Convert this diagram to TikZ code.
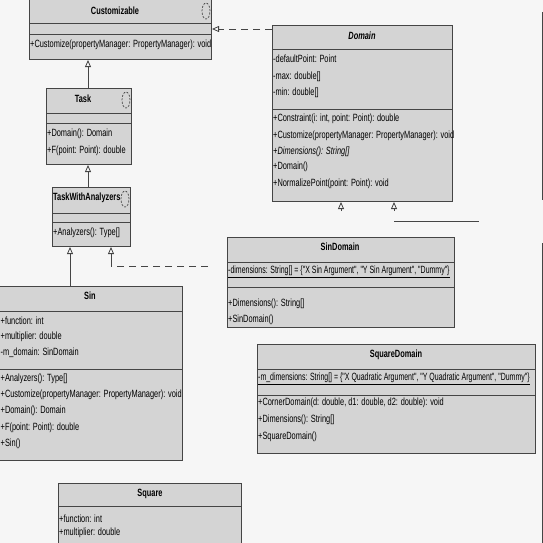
\documentclass[tikz,border=0pt]{standalone}
\usepackage{fontspec}
\setmainfont[FakeStretch=0.705]{Liberation Sans}
\newfontfamily\tightfont[FakeStretch=0.665]{Liberation Sans}
\usetikzlibrary{arrows.meta}
\definecolor{boxgray}{gray}{0.83}
\definecolor{edgegray}{gray}{0.27}
\definecolor{paper}{gray}{0.965}
\tikzset{
  cls/.style={draw=edgegray, fill=boxgray, line width=1pt, anchor=north west, inner sep=0pt},
  sep/.style={draw=edgegray, line width=1pt},
  ttl/.style={font=\fontsize{10.5}{12}\selectfont\bfseries, inner sep=0pt},
  mem/.style={anchor=west, font=\fontsize{10.5}{12}\selectfont, inner sep=0pt},
  inherit/.style={draw=edgegray, line width=0.8pt, -{Triangle[open, length=7pt, width=6pt]}},
  realize/.style={inherit, dash pattern=on 7pt off 5pt},
  dashlink/.style={draw=edgegray, line width=0.8pt, dash pattern=on 7pt off 5pt},
  icon/.style={draw=edgegray, dash pattern=on 2pt off 1.5pt, line width=0.7pt}
}

\begin{document}
\begin{tikzpicture}[x=1pt, y=-1pt]
    \useasboundingbox (0,0) rectangle (543,543);
    \fill[paper] (0,0) rectangle (543,543);
    \clip (0,0) rectangle (543,543);

    \node[cls, minimum width=182pt, minimum height=70pt] (custom) at (29,-11) {};
    \draw[sep] (29,24) -- (211,24);
    \draw[sep] (29,35) -- (211,35);
    \draw[icon] (206,11) ellipse [x radius=4pt, y radius=8pt];
    \node[ttl] (customT) at (115,11) {Customizable};
    \node[mem] (customM) at (30,45) {+Customize(propertyManager: PropertyManager): void};

    \node[cls, minimum width=180pt, minimum height=176pt] (domain) at (272,25) {};
    \draw[sep] (272,50) -- (452,50);
    \draw[sep] (272,109) -- (452,109);
    \node[ttl] (domainT) at (362,36) {\textit{Domain}};
    \node[mem] (domainA1) at (273,59) {-defaultPoint: Point};
    \node[mem] (domainA2) at (273,77) {-max: double[]};
    \node[mem] (domainA3) at (273,93) {-min: double[]};
    \node[mem] (domainM1) at (273,119) {+Constraint(i: int, point: Point): double};
    \node[mem] (domainM2) at (273,136) {+Customize(propertyManager: PropertyManager): void};
    \node[mem] (domainM3) at (273,152) {\textit{+Dimensions(): String[]}};
    \node[mem] (domainM4) at (273,167) {+Domain()};
    \node[mem] (domainM5) at (273,184) {+NormalizePoint(point: Point): void};

    \node[cls, minimum width=85pt, minimum height=76pt] (task) at (46,88) {};
    \draw[sep] (46,113) -- (131,113);
    \draw[sep] (46,123) -- (131,123);
    \draw[icon] (126,100) ellipse [x radius=4pt, y radius=8pt];
    \node[ttl] (taskT) at (83,99) {Task};
    \node[mem] (taskM1) at (47,134) {+Domain(): Domain};
    \node[mem] (taskM2) at (47,151) {+F(point: Point): double};

    \node[cls, minimum width=78pt, minimum height=59pt] (twa) at (52,187) {};
    \draw[sep] (52,213) -- (130,213);
    \draw[sep] (52,222) -- (130,222);
    \draw[icon] (125,199) ellipse [x radius=4pt, y radius=8pt];
    \node[ttl, anchor=west] (twaT) at (53,198) {TaskWithAnalyzers};
    \node[mem] (twaM1) at (53,233) {+Analyzers(): Type[]};

    \node[cls, minimum width=183pt, minimum height=174pt] (sin) at (-1,286) {};
    \draw[sep] (-1,311) -- (182,311);
    \draw[sep] (-1,369) -- (182,369);
    \node[ttl] (sinT) at (90,296) {Sin};
    \node[mem] (sinA1) at (0.5,321) {+function: int};
    \node[mem] (sinA2) at (0.5,337) {+multiplier: double};
    \node[mem] (sinA3) at (0.5,353) {-m\_domain: SinDomain};
    \node[mem] (sinM1) at (0.5,379) {+Analyzers(): Type[]};
    \node[mem] (sinM2) at (0.5,395) {+Customize(propertyManager: PropertyManager): void};
    \node[mem] (sinM3) at (0.5,411) {+Domain(): Domain};
    \node[mem] (sinM4) at (0.5,428) {+F(point: Point): double};
    \node[mem] (sinM5) at (0.5,444) {+Sin()};

    \node[cls, minimum width=227pt, minimum height=90pt] (sindom) at (227,237) {};
    \draw[sep] (227,262) -- (454,262);
    \draw[sep] (227,287) -- (454,287);
    \node[ttl] (sindomT) at (340,247) {SinDomain};
    \node[mem] (sindomA1) at (228,272) {\tightfont\underline{-dimensions: String[] = \{"X Sin Argument", "Y Sin Argument", "Dummy"\}}};
    \node[mem] (sindomM1) at (228,304) {+Dimensions(): String[]};
    \node[mem] (sindomM2) at (228,320) {+SinDomain()};

    \node[cls, minimum width=278pt, minimum height=109pt] (sqdom) at (257,344) {};
    \draw[sep] (257,369) -- (535,369);
    \draw[sep] (257,395) -- (535,395);
    \node[ttl] (sqdomT) at (396,355) {SquareDomain};
    \node[mem] (sqdomA1) at (258,379) {\tightfont\underline{-m\_dimensions: String[] = \{"X Quadratic Argument", "Y Quadratic Argument", "Dummy"\}}};
    \node[mem] (sqdomM1) at (258,403) {+CornerDomain(d: double, d1: double, d2: double): void};
    \node[mem] (sqdomM2) at (258,420) {+Dimensions(): String[]};
    \node[mem] (sqdomM3) at (258,437) {+SquareDomain()};

    \node[cls, minimum width=183pt, minimum height=80pt] (square) at (58,483) {};
    \draw[sep] (58,506) -- (241,506);
    \node[ttl] (squareT) at (150,494) {Square};
    \node[mem] (squareA1) at (59,519) {+function: int};
    \node[mem] (squareA2) at (59,533) {+multiplier: double};

    \draw[realize] ([yshift=-4pt]domain.north west) -- ([yshift=-4pt]domain.north west -| custom.east);
    \draw[inherit] (task.north -| 88,0) -- (custom.south -| 88,0);
    \draw[inherit] (twa.north -| 88,0) -- (task.south -| 88,0);
    \draw[inherit] (sin.north -| 70,0) -- (twa.south -| 70,0);
    \coordinate (dashEnd) at (208,266);
    \coordinate (dashBend) at (111,266);
    \draw[dashlink] (dashEnd) -- (dashBend);
    \draw[inherit] (dashBend) -- (twa.south -| dashBend);
    \coordinate (stubA) at (341,211);
    \coordinate (stubB) at (394,211);
    \draw[inherit] (stubA) -- (domain.south -| stubA);
    \draw[inherit] (stubB) -- (domain.south -| stubB);
    \coordinate (cutA) at (394,221);
    \coordinate (cutB) at (479,221);
    \draw[sep] (cutA) -- (cutB);
    \draw[sep] (542,12) -- (542,200);
    \draw[sep] (542,243) -- (542,543);
\end{tikzpicture}
\end{document}
